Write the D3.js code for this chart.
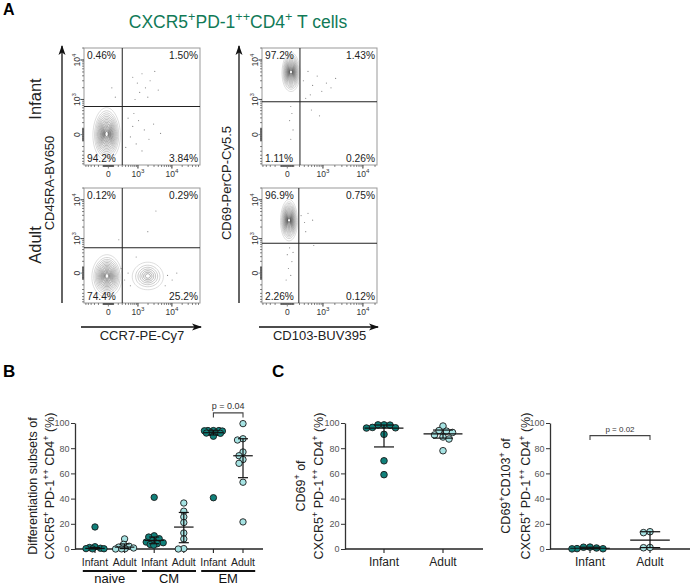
<!DOCTYPE html>
<html>
<head>
<meta charset="utf-8">
<script src="https://cdn.jsdelivr.net/npm/d3@7"></script>
<style>
  body { margin: 0; background: #fff; }
  svg { font-family: Arial, "Liberation Sans", Helvetica, sans-serif; }
</style>
</head>
<body>
<svg id="fig" width="690" height="586"></svg>
<script>
// ---------- panel A data (display units 0..1 on each flow axis) ----------
const flowRowNames = ["Infant", "Adult"];
const flowXNames = ["CCR7-PE-Cy7", "CD103-BUV395"];
const flowYNames = ["CD45RA-BV650", "CD69-PerCP-Cy5.5"];
const flowTickValues = [0, 1000, 10000];
const xTickPosCCR7 = [0.21, 0.465, 0.76];
const xTickPosCD103 = [0.22, 0.53, 0.88];
const yTickPos = [0.26, 0.56, 0.90];

// quadrants: upper-left, upper-right, lower-left, lower-right
const quadInfantCCR7 = ["0.46%", "1.50%", "94.2%", "3.84%"];
const quadInfantCD103 = ["97.2%", "1.43%", "1.11%", "0.26%"];
const quadAdultCCR7 = ["0.12%", "0.29%", "74.4%", "25.2%"];
const quadAdultCD103 = ["96.9%", "0.75%", "2.26%", "0.12%"];

// gates [x, y]
const gateInfantCCR7 = [0.33, 0.50];
const gateInfantCD103 = [0.33, 0.54];
const gateAdultCCR7 = [0.33, 0.48];
const gateAdultCD103 = [0.32, 0.52];

// populations [centre x, centre y, spread x, spread y, fraction]
const popInfantCCR7 = [[0.195, 0.265, 0.118, 0.225, 0.942]];
const popInfantCD103 = [[0.252, 0.795, 0.078, 0.167, 0.972]];
const popAdultCCR7 = [[0.198, 0.235, 0.13, 0.185, 0.744], [0.55, 0.235, 0.134, 0.12, 0.252]];
const popAdultCD103 = [[0.235, 0.72, 0.074, 0.18, 0.969]];

// sparse events outside the contours
const evInfantCCR7 = [[0.42,0.75],[0.46,0.70],[0.50,0.78],[0.53,0.66],[0.57,0.72],[0.61,0.80],[0.48,0.62],
  [0.55,0.58],[0.64,0.64],[0.44,0.56],[0.38,0.40],[0.42,0.33],[0.47,0.38],[0.52,0.30],[0.40,0.24],[0.45,0.18],
  [0.56,0.22],[0.60,0.35],[0.36,0.15],[0.50,0.12],[0.66,0.27],[0.43,0.44],[0.24,0.66],[0.27,0.58]];
const evInfantCD103 = [[0.36,0.72],[0.40,0.80],[0.44,0.68],[0.48,0.76],[0.52,0.63],[0.56,0.70],[0.60,0.66],
  [0.42,0.60],[0.38,0.57],[0.64,0.74],[0.25,0.50],[0.26,0.44],[0.24,0.38],[0.27,0.30],[0.25,0.22],[0.43,0.47],[0.50,0.42]];
const evAdultCCR7 = [[0.32,0.30],[0.35,0.20],[0.38,0.26],[0.40,0.15],[0.72,0.24],[0.76,0.20],[0.80,0.26],
  [0.70,0.15],[0.55,0.62],[0.62,0.80],[0.30,0.55],[0.45,0.40]];
const evAdultCD103 = [[0.34,0.76],[0.37,0.70],[0.40,0.78],[0.44,0.72],[0.38,0.62],[0.45,0.50],[0.24,0.48],
  [0.22,0.42],[0.26,0.36],[0.23,0.30],[0.25,0.24],[0.21,0.20],[0.27,0.44]];

// ---------- panel B data (%) ----------
const subsets = ["naive", "CM", "EM"];
const ages = ["Infant", "Adult"];
const naiveInfant = [17.5, 1.8, 1.2, 0.6, 0.3, 0.2, 0.1];
const naiveAdult = [8, 3.7, 2.2, 1.5, 0.8, 0.3, 0.1, 0];
const cmInfant = [41, 10.5, 9.5, 8.2, 6.8, 5.5, 5, 4.2, 3.6, 3];
const cmAdult = [36.5, 30, 25.5, 21, 12.7, 8, 0.3, 0];
const emInfant = [94, 94, 94, 93.8, 93.6, 92.5, 92.3, 92, 91.8, 89.5, 40.7];
const emAdult = [99.5, 87.5, 86.5, 77, 74, 71, 68, 53, 21.5];
const medB = [0.5, 1.5, 6.8, 17.4, 92.3, 74];
const loB = [0, 0.3, 4.2, 5, 90.5, 56.6];
const hiB = [1.2, 4, 9.5, 29, 93.8, 87.5];
const pLabelB = "p = 0.04";
const pBracketB = [4, 5, 108]; // group from, group to, height (%)

// ---------- panel C data (%) ----------
const cd69Infant = [98.5, 98.5, 98.3, 96.5, 96.2, 96, 91, 70, 59];
const cd69Adult = [97.6, 94, 93.5, 92.5, 90.5, 88.9, 87.3, 78];
const med69 = [96, 91.3];
const lo69 = [81, 88];
const hi69 = [98.4, 94.4];
const cd103Infant = [1.5, 1.4, 0.8, 0.3, 0.2, 0.1];
const cd103Adult = [13.7, 13, 1.2, 1];
const med103 = [0.6, 7.1];
const lo103 = [0.2, 1.1];
const hi103 = [1.4, 13.7];
const pLabelC = "p = 0.02";
const pBracketC = [0, 1, 90];

const yTicksPct = [0, 20, 40, 60, 80, 100];

// ---------- helpers ----------
const svg = d3.select("#fig");
const defs = svg.append("defs");
const infantFill = "#10807a", adultFill = "#a6e3e3";

defs.append("marker").attr("id", "arrow").attr("viewBox", "0 -4 10 8")
  .attr("refX", 9).attr("refY", 0).attr("markerWidth", 10).attr("markerHeight", 8)
  .attr("markerUnits", "userSpaceOnUse").attr("orient", "auto")
  .append("path").attr("d", "M0,-3.5L10,0L0,3.5L2.5,0Z").attr("fill", "#111");

// parts: [text, isSuperscript]
function rich(text, parts, fs) {
  let up = false;
  parts.forEach(([t, sup]) => {
    const ts = text.append("tspan").text(t);
    if (sup) {
      ts.attr("font-size", fs * 0.72);
      if (!up) { ts.attr("dy", -fs * 0.42); up = true; }
    } else if (up) { ts.attr("dy", fs * 0.42); up = false; }
  });
  return text;
}

function biex(p) {
  const k = (p[2] - p[1]) / Math.LN10;
  const w = 1000 / Math.sinh((p[1] - p[0]) / k);
  return v => p[0] + k * Math.asinh(v / w);
}

const minorTicks = [];
[10, 100, 1000, 10000].forEach(dec => d3.range(1, 10).forEach(m => {
  minorTicks.push(m * dec);
  if (dec < 1000) minorTicks.push(-m * dec);
}));

// panel letters and title
svg.append("text").attr("x", 3).attr("y", 15).attr("font-size", 16).attr("font-weight", "bold").text("A");
svg.append("text").attr("x", 3).attr("y", 377).attr("font-size", 17).attr("font-weight", "bold").text("B");
svg.append("text").attr("x", 272).attr("y", 377).attr("font-size", 17).attr("font-weight", "bold").text("C");

rich(svg.append("text").attr("x", 238).attr("y", 28).attr("text-anchor", "middle")
  .attr("font-size", 17.5).attr("fill", "#117a57"),
  [["CXCR5"], ["+", 1], ["PD-1"], ["++", 1], ["CD4"], ["+", 1], [" T cells"]], 17.5);

// ---------- panel A ----------
const flowColX = [[84, 200], [262, 377]];
const flowRowY = [[48, 165], [188, 303]];
const flowYArrowX = [62, 239];

const flowPlots = [
  { row: 0, col: 0, quad: quadInfantCCR7, gate: gateInfantCCR7, pops: popInfantCCR7, ev: evInfantCCR7 },
  { row: 0, col: 1, quad: quadInfantCD103, gate: gateInfantCD103, pops: popInfantCD103, ev: evInfantCD103 },
  { row: 1, col: 0, quad: quadAdultCCR7, gate: gateAdultCCR7, pops: popAdultCCR7, ev: evAdultCCR7 },
  { row: 1, col: 1, quad: quadAdultCD103, gate: gateAdultCD103, pops: popAdultCD103, ev: evAdultCD103 }
];

const ang = d3.range(0, 2 * Math.PI, Math.PI / 24);

flowPlots.forEach((p, i) => {
  const [x0, x1] = flowColX[p.col], [y0, y1] = flowRowY[p.row];
  const x = d3.scaleLinear([0, 1], [x0, x1]);
  const y = d3.scaleLinear([0, 1], [y1, y0]);
  const fx = biex(p.col === 0 ? xTickPosCCR7 : xTickPosCD103);
  const fy = biex(yTickPos);
  const g = svg.append("g");

  defs.append("clipPath").attr("id", "clip" + i)
    .append("rect").attr("x", x0).attr("y", y0).attr("width", x1 - x0).attr("height", y1 - y0);
  const inner = g.append("g").attr("clip-path", `url(#clip${i})`);

  // contours: outer rings light and wider apart, inner rings dense and dark
  p.pops.forEach(([cx, cy, sx, sy, frac]) => {
    const n = Math.round(4 + 13 * frac);
    const shade = d3.scaleLinear().domain([0, n - 1])
      .range(["#c6c6c6", frac > 0.5 ? "#383838" : "#6a6a6a"]);
    d3.range(n).forEach(k => {
      const s = 1 - 0.94 * Math.pow(k / n, 0.75);
      const pts = ang.map(a => [
        x(cx + sx * s * Math.cos(a) * (1 - 0.05 * Math.sin(a))),
        y(cy + sy * s * Math.sin(a))
      ]);
      inner.append("path").attr("d", d3.line().curve(d3.curveCardinalClosed)(pts))
        .attr("fill", "none").attr("stroke", shade(k)).attr("stroke-width", 0.6);
    });
    if (frac > 0.5)
      inner.append("circle").attr("cx", x(cx)).attr("cy", y(cy)).attr("r", 1).attr("fill", "#fff");
  });

  inner.selectAll("circle.ev").data(p.ev).join("circle").attr("class", "ev")
    .attr("cx", d => x(d[0])).attr("cy", d => y(d[1])).attr("r", 0.6).attr("fill", "#8a8a8a");

  // box and gates
  g.append("rect").attr("x", x0).attr("y", y0).attr("width", x1 - x0).attr("height", y1 - y0)
    .attr("fill", "none").attr("stroke", "#999").attr("stroke-width", 1);
  g.append("line").attr("x1", x(p.gate[0])).attr("x2", x(p.gate[0])).attr("y1", y0).attr("y2", y1)
    .attr("stroke", "#333").attr("stroke-width", 1.1);
  g.append("line").attr("x1", x0).attr("x2", x1).attr("y1", y(p.gate[1])).attr("y2", y(p.gate[1]))
    .attr("stroke", "#222").attr("stroke-width", 1.1);

  // quadrant percentages
  const qpos = [[x0 + 3, y0 + 11, "start"], [x1 - 2, y0 + 11, "end"], [x0 + 3, y1 - 3.5, "start"], [x1 - 2, y1 - 3.5, "end"]];
  p.quad.forEach((q, k) => g.append("text").attr("x", qpos[k][0]).attr("y", qpos[k][1])
    .attr("text-anchor", qpos[k][2]).attr("font-size", 10.2).attr("fill", "#222").text(q));

  // ticks
  const tickG = g.append("g").attr("stroke", "#333").attr("stroke-width", 0.6);
  minorTicks.concat(flowTickValues).forEach(v => {
    const major = flowTickValues.includes(v);
    const len = major ? 3.5 : 2;
    const px = fx(v), py = fy(v);
    if (px >= 0 && px <= 1)
      tickG.append("line").attr("x1", x(px)).attr("x2", x(px)).attr("y1", y1).attr("y2", y1 + len);
    if (py >= 0 && py <= 1)
      tickG.append("line").attr("x1", x0).attr("x2", x0 - len).attr("y1", y(py)).attr("y2", y(py));
  });
  flowTickValues.forEach(v => {
    const parts = v === 0 ? [["0"]] : [["10"], [String(Math.log10(v)), 1]];
    rich(g.append("text").attr("x", x(fx(v))).attr("y", y1 + 12).attr("text-anchor", "middle")
      .attr("font-size", 8.5).attr("fill", "#333"), parts, 8.5);
    rich(g.append("text").attr("transform", `translate(${x0 - 4},${y(fy(v))}) rotate(-90)`)
      .attr("text-anchor", "middle").attr("font-size", 8.5).attr("fill", "#333"), parts, 8.5);
  });
});

// flow axis arrows and titles
flowYArrowX.forEach((ax, c) => {
  svg.append("line").attr("x1", ax).attr("x2", ax).attr("y1", flowRowY[1][1]).attr("y2", 46)
    .attr("stroke", "#111").attr("stroke-width", 1.3).attr("marker-end", "url(#arrow)");
  svg.append("line").attr("x1", flowColX[c][0] - 3).attr("x2", flowColX[c][1] + 1).attr("y1", 327).attr("y2", 327)
    .attr("stroke", "#111").attr("stroke-width", 1.3).attr("marker-end", "url(#arrow)");
  svg.append("text").attr("x", (flowColX[c][0] + flowColX[c][1]) / 2).attr("y", 340)
    .attr("text-anchor", "middle").attr("font-size", 13).attr("fill", "#222").text(flowXNames[c]);
  svg.append("text").attr("transform", `translate(${ax - 8},183) rotate(-90)`)
    .attr("text-anchor", "middle").attr("font-size", 13).attr("fill", "#222").text(flowYNames[c]);
});
flowRowNames.forEach((r, k) => {
  const cy = k === 0 ? 99 : 245;
  svg.append("text").attr("transform", `translate(41,${cy}) rotate(-90)`)
    .attr("text-anchor", "middle").attr("font-size", 16.5).attr("fill", "#222").text(r);
});

// ---------- dot plots ----------
// greedy beeswarm, limited spread; overlaps allowed when crowded
function swarm(vals, cx, y, d, maxSpread) {
  const placed = [];
  vals.slice().sort((a, b) => b - a).forEach(v => {
    const py = y(v);
    let px = null, bestScore = -1, bestX = cx;
    for (let k = 0; k <= maxSpread * 2 && px === null; k++) {
      for (const sg of (k === 0 ? [1] : [-1, 1])) {
        const cand = cx + sg * k * 0.5;
        const minD = placed.length ? d3.min(placed, q => Math.hypot(q.x - cand, q.y - py)) : Infinity;
        if (minD >= d) { px = cand; break; }
        if (minD > bestScore) { bestScore = minD; bestX = cand; }
      }
    }
    placed.push({ v, x: px === null ? bestX : px, y: py });
  });
  return placed;
}

function dotPlot(o) {
  const g = svg.append("g");
  const y = d3.scaleLinear([0, 100], [549, 423]);
  const x = d3.scalePoint(o.cats, o.range);
  const step = x.step();

  g.append("g").attr("transform", `translate(${o.axisX},0)`)
    .call(d3.axisLeft(y).tickValues(yTicksPct).tickSize(4).tickSizeOuter(0).tickPadding(1.5))
    .call(a => a.select(".domain").attr("stroke", "#333").attr("stroke-width", 1.3))
    .call(a => a.selectAll(".tick line").attr("stroke", "#333"))
    .call(a => a.selectAll(".tick text").attr("font-size", 9).attr("fill", "#555").attr("font-family", null));

  g.append("line").attr("x1", o.axisX).attr("x2", o.axisEnd).attr("y1", y(0)).attr("y2", y(0))
    .attr("stroke", "#222").attr("stroke-width", 1.3);
  o.cats.forEach(c => {
    g.append("line").attr("x1", x(c)).attr("x2", x(c)).attr("y1", y(0)).attr("y2", y(0) + 4)
      .attr("stroke", "#222").attr("stroke-width", 1.1);
    g.append("text").attr("x", x(c)).attr("y", 566).attr("text-anchor", "middle")
      .attr("font-size", o.labelSize).attr("fill", "#222").text(o.catLabel(c));
  });

  o.series.forEach((vals, k) => {
    const pts = swarm(vals, x(o.cats[k]), y, o.d, o.spread);
    g.append("g").selectAll("circle").data(pts).join("circle")
      .attr("cx", d => d.x).attr("cy", d => d.y).attr("r", o.r)
      .attr("fill", k % 2 === 0 ? infantFill : adultFill)
      .attr("stroke", "#1a1a1a").attr("stroke-width", 0.9);
  });

  o.cats.forEach((c, k) => {
    const cx = x(c), mw = step * 0.33, cw = step * 0.17;
    const lg = g.append("g").attr("stroke", "#111").attr("stroke-width", 1.2);
    lg.append("line").attr("x1", cx).attr("x2", cx).attr("y1", y(o.lo[k])).attr("y2", y(o.hi[k]));
    lg.append("line").attr("x1", cx - mw).attr("x2", cx + mw).attr("y1", y(o.med[k])).attr("y2", y(o.med[k]));
    [o.lo[k], o.hi[k]].forEach(v => lg.append("line").attr("x1", cx - cw).attr("x2", cx + cw)
      .attr("y1", y(v)).attr("y2", y(v)));
  });

  if (o.bracket) {
    const [a, b, h] = o.bracket;
    const xa = x(o.cats[a]), xb = x(o.cats[b]), yb = y(h);
    g.append("path").attr("d", `M${xa},${yb + 4.5}V${yb}H${xb}V${yb + 4.5}`)
      .attr("fill", "none").attr("stroke", "#444").attr("stroke-width", 1.1);
    g.append("text").attr("x", (xa + xb) / 2).attr("y", yb - 4).attr("text-anchor", "middle")
      .attr("font-size", o.pSize).attr("fill", "#333").text(o.pLabel);
  }

  o.title.forEach((parts, k) => {
    rich(svg.append("text").attr("transform", `translate(${o.titleX[k]},486) rotate(-90)`)
      .attr("text-anchor", "middle").attr("font-size", 12.5).attr("fill", "#222"), parts, 12.5);
  });
  return { x, y };
}

const catsB = [];
subsets.forEach(s => ages.forEach(a => catsB.push(s + "|" + a)));
const pbx = dotPlot({
  cats: catsB, range: [95, 243], axisX: 75, axisEnd: 263,
  series: [naiveInfant, naiveAdult, cmInfant, cmAdult, emInfant, emAdult],
  med: medB, lo: loB, hi: hiB, r: 3.2, d: 5.5, spread: 9, labelSize: 10.5,
  catLabel: c => c.split("|")[1], bracket: pBracketB, pLabel: pLabelB, pSize: 9,
  title: [[["Differentiation subsets of"]],
          [["CXCR5"], ["+", 1], [" PD-1"], ["++", 1], [" CD4"], ["+", 1], [" (%)"]]],
  titleX: [37, 54]
});
subsets.forEach(s => {
  const cx = (pbx.x(s + "|Infant") + pbx.x(s + "|Adult")) / 2;
  svg.append("line").attr("x1", cx - 27).attr("x2", cx + 27).attr("y1", 571).attr("y2", 571)
    .attr("stroke", "#111").attr("stroke-width", 2.2);
  svg.append("text").attr("x", cx).attr("y", 582.5).attr("text-anchor", "middle")
    .attr("font-size", 13).attr("fill", "#111").text(s);
});

dotPlot({
  cats: ages, range: [384, 443], axisX: 345, axisEnd: 483,
  series: [cd69Infant, cd69Adult], med: med69, lo: lo69, hi: hi69, r: 3.3, d: 6, spread: 18,
  labelSize: 12, catLabel: c => c, bracket: null, pLabel: "", pSize: 8,
  title: [[["CD69"], ["+", 1], [" of"]],
          [["CXCR5"], ["+", 1], [" PD-1"], ["++", 1], [" CD4"], ["+", 1], [" (%)"]]],
  titleX: [305, 323]
});

dotPlot({
  cats: ages, range: [590, 650], axisX: 550, axisEnd: 690,
  series: [cd103Infant, cd103Adult], med: med103, lo: lo103, hi: hi103, r: 3.3, d: 6.5, spread: 18,
  labelSize: 12, catLabel: c => c, bracket: pBracketC, pLabel: pLabelC, pSize: 8,
  title: [[["CD69"], ["+", 1], ["CD103"], ["+", 1], [" of"]],
          [["CXCR5"], ["+", 1], [" PD-1"], ["++", 1], [" CD4"], ["+", 1], [" (%)"]]],
  titleX: [510, 530]
});
</script>
</body>
</html>
